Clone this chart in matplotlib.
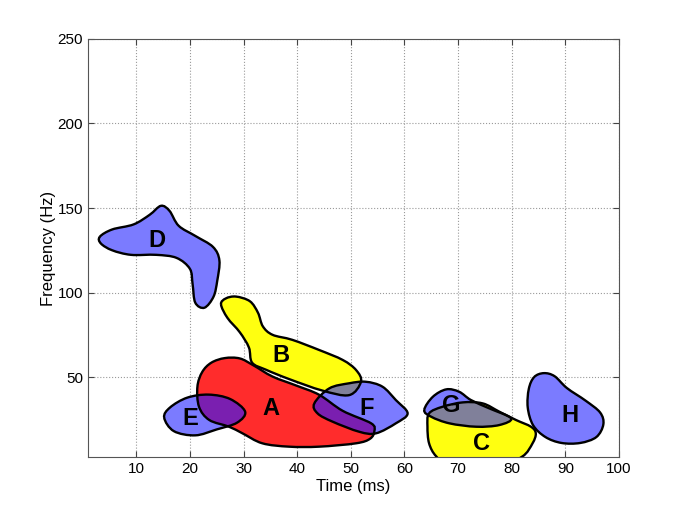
import numpy as np
import matplotlib
matplotlib.use("Agg")
import matplotlib.pyplot as plt
from matplotlib.path import Path
from matplotlib.patches import PathPatch

plt.rcParams["font.family"] = ["Liberation Sans", "DejaVu Sans"]

# ==========================================
# BLOB OUTLINES (time in ms, frequency in Hz)
# ==========================================

a_x = [21.4, 22.3, 24.0, 26.5, 29.3, 31.8, 35.4, 39.8, 44.1, 48.5, 53.8, 54.4, 53.6, 51.0, 44.1, 38.5, 33.5, 29.8, 27.3, 23.6, 21.7]
a_y = [44.3, 53.0, 58.5, 61.2, 61.0, 57.0, 50.3, 45.0, 39.5, 30.0, 22.6, 18.0, 13.5, 10.8, 8.8, 8.8, 10.8, 16.7, 20.6, 24.6, 32.4]

b_x = [25.8, 26.7, 28.6, 31.2, 32.7, 33.6, 35.4, 39.1, 44.1, 48.5, 51.0, 51.9, 49.7, 44.7, 38.5, 34.2, 31.6, 31.0, 29.3, 27.0]
b_y = [93.0, 96.5, 97.6, 94.8, 88.0, 80.0, 75.0, 72.0, 66.0, 60.1, 54.1, 47.2, 39.3, 42.0, 48.8, 54.3, 58.5, 67.5, 76.5, 85.0]

c_x = [64.6, 67.1, 70.9, 74.6, 77.7, 80.8, 83.6, 84.5, 83.9, 82.0, 77.7, 68.4, 65.9, 64.6, 64.3]
c_y = [28.5, 32.4, 35.0, 34.4, 29.5, 24.6, 20.6, 16.7, 10.8, 3.0, -2.0, -2.0, 3.2, 10.8, 20.6]

d_x = [3.2, 5.5, 9.5, 12.5, 14.6, 16.2, 17.9, 21.0, 24.3, 25.5, 25.1, 24.4, 22.7, 21.0, 20.5, 20.0, 17.5, 13.7, 9.0, 5.5, 3.4]
d_y = [133.0, 137.3, 140.3, 146.0, 151.3, 148.3, 139.5, 133.5, 127.0, 119.0, 107.0, 97.5, 91.0, 94.0, 105.0, 114.0, 120.5, 122.3, 122.3, 125.0, 129.0]

e_x = [15.2, 16.3, 19.5, 23.5, 27.5, 30.3, 28.8, 25.0, 21.0, 17.0]
e_y = [26.0, 32.0, 37.8, 39.6, 37.0, 29.5, 23.0, 19.0, 15.5, 18.0]

f_x = [43.2, 46.0, 49.7, 52.8, 55.9, 58.4, 60.6, 58.4, 54.7, 51.6, 46.6, 43.8]
f_y = [34.4, 43.3, 46.3, 47.2, 44.3, 36.4, 28.5, 22.6, 16.7, 17.6, 23.6, 28.5]

g_x = [63.7, 65.3, 67.8, 70.2, 72.4, 75.8, 79.9, 77.7, 73.4, 68.4, 65.0]
g_y = [30.5, 38.3, 42.7, 41.3, 36.4, 31.5, 25.6, 21.6, 20.6, 22.6, 26.5]

h_x = [84.2, 86.0, 88.0, 90.3, 93.8, 96.5, 97.1, 95.8, 92.8, 89.3, 86.3, 84.0, 83.0, 83.2]
h_y = [50.0, 52.3, 50.5, 43.5, 36.0, 29.0, 22.0, 14.5, 11.0, 11.0, 14.5, 21.5, 32.0, 43.0]

labels = ["A", "B", "C", "D", "E", "F", "G", "H"]
label_x = [35.1, 37.0, 74.3, 13.9, 20.1, 52.9, 68.7, 90.8]
label_y = [31.5, 63.0, 10.8, 131.0, 25.6, 31.5, 33.4, 27.5]

x_ticks = [10, 20, 30, 40, 50, 60, 70, 80, 90, 100]
y_ticks = [50, 100, 150, 200, 250]

BLUE = "#7b7bff"
YELLOW = "#ffff10"
RED = "#ff2c2c"
PURPLE = "#7a1fb0"
GRAY = "#80809a"
ORANGE = "#f2c000"


def blob_path(xs, ys):
    # closed Catmull-Rom outline as cubic bezier segments
    p = np.column_stack([xs, ys])
    n = len(p)
    verts = [p[0]]
    codes = [Path.MOVETO]
    for i in range(n):
        p0, p1, p2, p3 = p[i - 1], p[i], p[(i + 1) % n], p[(i + 2) % n]
        verts += [p1 + (p2 - p0) / 6, p2 - (p3 - p1) / 6, p2]
        codes += [Path.CURVE4] * 3
    return Path(verts, codes)


fig = plt.figure(figsize=(6.85, 5.13), dpi=100)
ax = fig.add_axes([0.1285, 0.1092, 0.775, 0.8148])

shapes = {
    "A": (a_x, a_y, RED),
    "B": (b_x, b_y, YELLOW),
    "C": (c_x, c_y, YELLOW),
    "D": (d_x, d_y, BLUE),
    "E": (e_x, e_y, BLUE),
    "F": (f_x, f_y, BLUE),
    "G": (g_x, g_y, BLUE),
    "H": (h_x, h_y, BLUE),
}
paths = {k: blob_path(v[0], v[1]) for k, v in shapes.items()}

# fills
for k, (xs, ys, col) in shapes.items():
    ax.add_patch(PathPatch(paths[k], facecolor=col, edgecolor="none", zorder=2))

# overlap fills
overlaps = [("A", "E", PURPLE), ("A", "F", PURPLE), ("B", "F", GRAY),
            ("C", "G", GRAY), ("A", "B", ORANGE)]
for k1, k2, col in overlaps:
    clip = PathPatch(paths[k2], transform=ax.transData, facecolor="none", edgecolor="none")
    ax.add_patch(clip)
    over = PathPatch(paths[k1], facecolor=col, edgecolor="none", zorder=3)
    ax.add_patch(over)
    over.set_clip_path(clip)

# outlines
for k in shapes:
    ax.add_patch(PathPatch(paths[k], facecolor="none", edgecolor="black",
                           linewidth=1.7, zorder=4))

for lab, lx, ly in zip(labels, label_x, label_y):
    ax.text(lx, ly, lab, fontsize=17, fontweight="bold", ha="center",
            va="center", zorder=5)

ax.set_xlim(1, 100)
ax.set_ylim(2.7, 250)
ax.set_xticks(x_ticks)
ax.set_yticks(y_ticks)
ax.tick_params(direction="in", top=True, right=True, labelsize=11,
               length=4, color="#444444")
ax.grid(True, linestyle=":", color="#9a9a9a", linewidth=0.8, zorder=0)
ax.set_axisbelow(True)
for s in ax.spines.values():
    s.set_color("#555555")

ax.set_xlabel("Time (ms)", fontsize=12, labelpad=2)
ax.set_ylabel("Frequency (Hz)", fontsize=12, labelpad=1)

fig.savefig("out.png", dpi=100)
